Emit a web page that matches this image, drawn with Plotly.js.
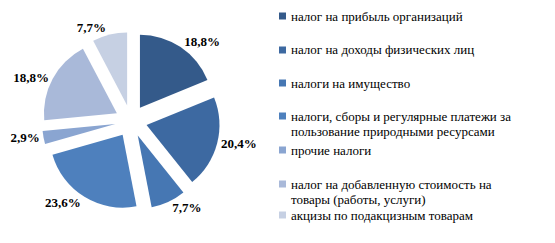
<!DOCTYPE html>
<html>
<head>
<meta charset="utf-8">
<script src="https://cdn.plot.ly/plotly-3.0.1.min.js"></script>
<style>
html,body{margin:0;padding:0;background:#fff;}
#chart{width:555px;height:243px;}
#chart svg text{font-family:"Liberation Serif","Times New Roman","DejaVu Serif",serif !important;}
</style>
</head>
<body>
<div id="chart"></div>
<script>
// Data
const categories = [
  "налог на прибыль организаций",
  "налог на доходы физических лиц",
  "налоги на имущество",
  "налоги, сборы и регулярные платежи за пользование природными ресурсами",
  "прочие налоги",
  "налог на добавленную стоимость на товары (работы, услуги)",
  "акцизы по подакцизным товарам"
];
const legendLines = [
  ["налог на прибыль организаций"],
  ["налог на доходы физических лиц"],
  ["налоги на имущество"],
  ["налоги, сборы и регулярные платежи за", "пользование природными ресурсами"],
  ["прочие налоги"],
  ["налог на добавленную стоимость на", "товары (работы, услуги)"],
  ["акцизы по подакцизным товарам"]
];
const values = [18.8, 20.4, 7.7, 23.6, 2.9, 18.8, 7.7];
const labelsText = values.map(v => v.toFixed(1).replace('.', ',') + '%');

// Styles / layout
const colors = ["#345A8A", "#3D69A1", "#4677B3", "#4E80BD", "#8AA5D1", "#A9B9D9", "#C6D0E3"];
const W = 555, H = 243;
const legendFirstY = [16, 50, 83, 116, 150, 184, 215];
const legendLineGap = 15;
const serif = "Liberation Serif, Times New Roman, DejaVu Serif, serif";

const shapes = [];
const annotations = [];
legendLines.forEach((lines, i) => {
  const y = legendFirstY[i];
  shapes.push({
    type: 'rect', xref: 'paper', yref: 'paper',
    x0: 279 / W, x1: 286 / W, y0: 1 - (y + 3.5) / H, y1: 1 - (y - 3.5) / H,
    fillcolor: colors[i], line: {width: 0}
  });
  lines.forEach((t, j) => {
    annotations.push({
      xref: 'paper', yref: 'paper', x: 289 / W, y: 1 - (y + j * legendLineGap) / H,
      xanchor: 'left', yanchor: 'middle', showarrow: false, text: t,
      font: {family: serif, size: 13, color: '#000'}
    });
  });
});

const cx = 131, cy = 121, R = 89;
const trace = {
  type: 'pie',
  labels: categories,
  values: values,
  text: labelsText,
  textinfo: 'text',
  textposition: 'outside',
  sort: false,
  direction: 'clockwise',
  rotation: 0,
  pull: values.map(() => 0.22),
  marker: {colors: colors, line: {width: 0}},
  textfont: {family: serif, size: 13, color: '#000', weight: 'bold'},
  domain: {x: [(cx - R) / W, (cx + R) / W], y: [(H - cy - R) / H, (H - cy + R) / H]},
  automargin: false,
  hoverinfo: 'label+text'
};

Plotly.newPlot('chart', [trace], {
  width: W, height: H,
  margin: {l: 0, r: 0, t: 0, b: 0},
  paper_bgcolor: '#fff',
  font: {family: serif},
  showlegend: false,
  shapes: shapes,
  annotations: annotations
}, {displayModeBar: false, staticPlot: true});
</script>
</body>
</html>
